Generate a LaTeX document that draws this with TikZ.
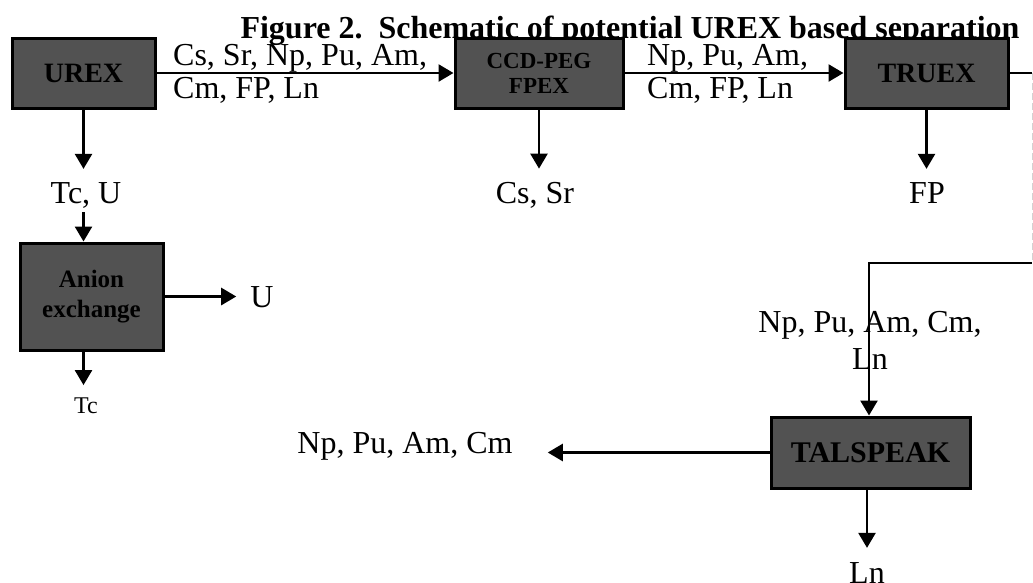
\documentclass[tikz,border=0pt]{standalone}
\usepackage{fontspec}
\setmainfont{Liberation Serif}
\usetikzlibrary{arrows.meta}
\tikzset{unit/.style = {shape = rectangle, draw, line width = 3pt, fill = black!68, align = center, inner sep = 0pt}}
\tikzset{edge/.style = {line width = 2.5pt, -{Triangle[length = 15pt, width = 17pt]}}}
\tikzset{lbl/.style = {inner sep = 0pt, font = \fontsize{32}{32}\selectfont}}

\begin{document}
\begin{tikzpicture}[x = 1pt, y = -1pt]
	\useasboundingbox (0, 0) rectangle (1033, 582);

	\node[font = \fontsize{32}{32}\selectfont\bfseries, anchor = base] (title) at (630, 38) {Figure 2.\ \ Schematic of potential UREX based separation};

	\node[unit, minimum width = 143pt, minimum height = 70pt, font = \fontsize{28}{28}\selectfont\bfseries] (urex) at (83.5, 73) {UREX};
	\node[unit, minimum width = 168pt, minimum height = 70pt, font = \fontsize{23}{25}\selectfont\bfseries] (ccd) at (539, 73) {CCD-PEG\\FPEX};
	\node[unit, minimum width = 163pt, minimum height = 70pt, font = \fontsize{28}{28}\selectfont\bfseries] (truex) at (926.5, 73) {TRUEX};
	\node[unit, minimum width = 143pt, minimum height = 107pt, font = \fontsize{25}{30}\selectfont\bfseries] (anion) at (91.5, 296.5) {Anion\\exchange};
	\node[unit, minimum width = 199pt, minimum height = 71pt, font = \fontsize{30}{30}\selectfont\bfseries] (tal) at (870.5, 452.5) {TALSPEAK};

	\node[lbl, align = left, anchor = north west, font = \fontsize{32}{33}\selectfont] (feed) at (173, 44) {Cs, Sr, Np, Pu, Am,\\Cm, FP, Ln};
	\node[lbl, align = left, anchor = north west, font = \fontsize{32}{33}\selectfont] (raff) at (647, 44) {Np, Pu, Am,\\Cm, FP, Ln};
	\node[lbl, anchor = base] (tcu) at (86, 203) {Tc, U};
	\node[lbl, anchor = base] (cssr) at (535, 203) {Cs, Sr};
	\node[lbl, anchor = base] (fp) at (927, 203) {FP};
	\node[lbl, anchor = base] (u) at (262, 307) {U};
	\node[lbl, anchor = base, font = \fontsize{24}{24}\selectfont] (tc) at (86, 413) {Tc};
	\node[lbl, align = center, anchor = north, font = \fontsize{32}{37}\selectfont] (minor) at (870, 311.5) {Np, Pu, Am, Cm,\\Ln};
	\node[lbl, anchor = base] (act) at (405, 453) {Np, Pu, Am, Cm};
	\node[lbl, anchor = base] (ln) at (867, 583) {Ln};

	\coordinate (ne) at (1032, 73);
	\coordinate (se) at (1032, 263);
	\coordinate (bend) at (869, 263);

	\draw[edge] (urex) to (ccd);
	\draw[edge] (ccd) to (truex);
	\draw[line width = 2.5pt] (truex.east) to (ne);
	\draw[gray!35, line width = 1pt, dash pattern = on 7pt off 3pt] (ne) to (se);
	\draw[edge] (se) -- (bend) -- (bend |- tal.north);

	\draw[edge, shorten > = 13pt] (urex.south) to (urex.south |- tcu.north);
	\draw[edge, shorten > = 13pt] (ccd.south) to (ccd.south |- cssr.north);
	\draw[edge, shorten > = 13pt] (truex.south) to (truex.south |- fp.north);
	\draw[edge, shorten < = 4pt] (tcu.south -| urex.south) to (anion.north -| urex.south);
	\draw[edge, shorten > = 14pt] (anion) to (anion.east -| u.west);
	\draw[edge, shorten > = 12pt] (anion.south -| urex.south) to (urex.south |- tc.north);
	\draw[edge, shorten > = 35pt] (tal) to (tal.west -| act.east);
	\draw[edge, shorten > = 14pt] (tal.south -| ln) to (ln.north);
\end{tikzpicture}
\end{document}
